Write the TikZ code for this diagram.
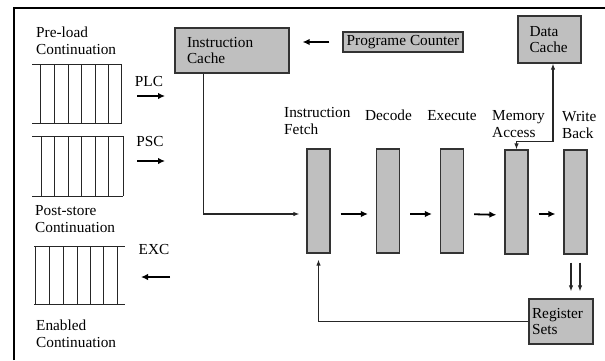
\documentclass[tikz,border=0pt]{standalone}
\usepackage{fontspec}
\setmainfont{Liberation Serif}
\usetikzlibrary{arrows.meta}

\begin{document}
\begin{tikzpicture}[x=1pt, y=-1pt,
	font=\fontsize{15.3}{16.5}\selectfont,
	>={Latex[length=6pt,width=4.5pt]},
	box/.style={draw=black!80, line width=1.2pt, fill=black!25, align=left, inner ysep=2pt},
	stagebox/.style={draw=black!80, line width=1.2pt, fill=black!25, minimum width=23pt, minimum height=104pt, inner sep=0pt},
	lbl/.style={align=left, inner sep=0pt},
	flow/.style={-{Latex[length=7pt,width=6.5pt]}, line width=1.8pt, shorten <=10pt, shorten >=8pt},
	link/.style={line width=1.2pt, draw=black!85}]
\useasboundingbox (0,0) rectangle (605,360);
% frame
\draw[line width=1.4pt] (14,360) -- (14,8) -- (605,8);

% continuation queues
\node[lbl, anchor=west] (plq) at (36,41) {Pre-load\\Continuation};
\node[lbl, anchor=west] (psq) at (35,219) {Post-store\\Continuation};
\node[lbl, anchor=west] (enq) at (36,334) {Enabled\\Continuation};
\draw[link, line width=1pt]
	(32,64) -- (122,64) (32,123) -- (122,123)
	(40,64) -- (40,123) (54,64) -- (54,123) (68,64) -- (68,123) (81,64) -- (81,123)
	(95,64) -- (95,123) (108,64) -- (108,123) (121,64) -- (121,123);
\draw[link, line width=1pt]
	(32,136) -- (123,136) (32,196) -- (123,196)
	(41,136) -- (41,196) (54,136) -- (54,196) (68,136) -- (68,196) (81,136) -- (81,196)
	(95,136) -- (95,196) (108,136) -- (108,196) (123,136) -- (123,196);
\draw[link, line width=1pt]
	(34,246) -- (125,246) (34,304) -- (125,304)
	(35,246) -- (35,304) (49,246) -- (49,304) (63,246) -- (63,304) (77,246) -- (77,304)
	(90,246) -- (90,304) (103,246) -- (103,304) (117,246) -- (117,304);

\node (plc) at (149,82) {PLC};
\node (psc) at (150,142) {PSC};
\node (exc) at (154,250) {EXC};
\coordinate (plca) at (137,96);  \coordinate (plcb) at (165,96);
\coordinate (psca) at (137,161); \coordinate (pscb) at (165,161);
\coordinate (exca) at (170,277); \coordinate (excb) at (141,277);
\path[flow, shorten <=0pt, shorten >=0pt]
	(plca) edge (plcb)
	(psca) edge (pscb)
	(exca) edge (excb)
;

% caches and counter
\node[box, text width=90pt, inner xsep=12pt, minimum height=45pt] (icache) at (232,50.5) {Instruction\\Cache};
\node[box, inner xsep=3pt, inner ysep=1pt, minimum width=120pt, minimum height=20pt] (pc) at (403,42) {Programe Counter};
\node[box, text width=40pt, inner xsep=11.5pt, minimum height=47pt] (dcache) at (549.5,39.5) {Data\\Cache};
\node[box, text width=58pt, inner xsep=3pt, minimum height=45pt] (regs) at (561,321.5) {Register\\Sets};

% pipeline
\node[stagebox] (if) at (318.5,201) {};
\node[stagebox] (id) at (388,201) {};
\node[stagebox] (ex) at (452,201) {};
\node[stagebox] (ma) at (516.5,202) {};
\node[stagebox] (wb) at (575.5,202) {};
\node[lbl, anchor=west] (ifl) at (284,121) {Instruction\\Fetch};
\node[lbl] (idl) at (388.5,115) {Decode};
\node[lbl] (exl) at (452,116) {Execute};
\node[lbl, anchor=west] (mal) at (492,124) {Memory\\Access};
\node[lbl, anchor=west] (wbl) at (562,125) {Write\\Back};

\path[flow]
	([yshift=-13pt]if.east) edge ([yshift=-13pt]id.west)
	([yshift=-13pt]id.east) edge ([yshift=-13pt]ex.west)
	([yshift=-13pt]ex.east) edge ([yshift=-13pt]ma.west)
	([yshift=-12pt]ma.east) edge ([yshift=-12pt]wb.west)
;
\draw[flow, shorten <=13pt, shorten >=13pt] (pc.west) -- (pc.west -| icache.east);
\draw[->, link, shorten >=7pt] ([xshift=29pt]icache.south west) |- ([yshift=-13pt]if.west);
\draw[<->, link] ([xshift=3.5pt]dcache.south) |- ([yshift=8pt]ma.north) -- (ma.north);
\draw[->, link, shorten <=8pt, shorten >=7pt] ([xshift=-4.5pt]wb.south) -- ([xshift=-4.5pt]wb.south |- regs.north);
\draw[->, link, shorten <=8pt, shorten >=7pt] ([xshift=4.5pt]wb.south) -- ([xshift=4.5pt]wb.south |- regs.north);
\draw[->, link, shorten >=6pt] (regs.west) -| (if.south);
\end{tikzpicture}
\end{document}
